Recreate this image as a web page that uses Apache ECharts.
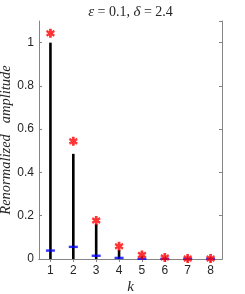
<!DOCTYPE html>
<html><head><meta charset="utf-8">
<script src="https://cdn.jsdelivr.net/npm/echarts@6/dist/echarts.min.js"></script>
<style>html,body{margin:0;padding:0;background:#fff}#c{width:245px;height:294px}</style>
</head><body><div id="c"></div>
<script>
const categories = ['1','2','3','4','5','6','7','8'];
const yTicks = [0, 0.2, 0.4, 0.6, 0.8, 1];
const redValues = [1.043, 0.544, 0.178, 0.059, 0.019, 0.007, 0.002, 0.002];
const stemValues = [1.0, 0.486, 0.162, 0.042, 0.012, 0.004, 0.001, 0.001];
const blueValues = [0.039, 0.056, 0.015, 0.005, 0.001, 0.001, 0.001, 0.001];

const chart = echarts.init(document.getElementById('c'), null, {renderer:'canvas'});
const axisCol = '#858585';
const txtCol = '#262626';
const star = 'path://M3.6,0H6.4V2.4L8.4,1L9.6,3.2L7.4,4.5L9.6,5.8L8.4,8L6.4,6.6V9H3.6V6.6L1.6,8L0.4,5.8L2.6,4.5L0.4,3.2L1.6,1L3.6,2.4Z';
const catAxisBase = {
  type:'category', data:categories, boundaryGap:true,
  axisLine:{show:true, lineStyle:{color:axisCol, width:1}},
  axisTick:{show:true, inside:true, length:3, alignWithLabel:true, lineStyle:{color:axisCol}},
  splitLine:{show:false}
};
const valAxisBase = {
  type:'value', min:0, max:1.1, interval:0.2,
  axisLine:{show:true, lineStyle:{color:axisCol, width:1}},
  axisTick:{show:true, inside:true, length:3, lineStyle:{color:axisCol}},
  splitLine:{show:false}
};
chart.setOption({
  animation:false,
  graphic:[{
    type:'text', x:130.5, y:12, z:10,
    style:{
      text:'{i|ε} = 0.1, {i|δ} = 2.4', align:'center', verticalAlign:'middle',
      fontFamily:'Liberation Serif', fontSize:14, fill:txtCol,
      rich:{i:{fontFamily:'Liberation Serif', fontStyle:'italic', fontSize:15, fill:txtCol, color:txtCol}}
    }
  }],
  grid:{left:39, right:23, top:21, bottom:35, containLabel:false, outerBoundsMode:'none'},
  xAxis:[
    Object.assign({}, catAxisBase, {position:'bottom',
      name:'k', nameLocation:'middle', nameGap:21, nameMoveOverlap:false,
      nameTextStyle:{fontFamily:'Liberation Serif', fontStyle:'italic', fontSize:15, color:txtCol},
      axisLabel:{show:true, margin:6, fontFamily:'Liberation Sans', fontSize:12, color:txtCol}}),
    Object.assign({}, catAxisBase, {position:'top', axisLabel:{show:false}})
  ],
  yAxis:[
    Object.assign({}, valAxisBase, {position:'left',
      name:'Renormalized   amplitude', nameLocation:'middle', nameGap:25, nameMoveOverlap:false,
      nameTextStyle:{fontFamily:'Liberation Serif', fontStyle:'italic', fontSize:14.5, color:txtCol},
      axisLabel:{show:true, margin:5, fontFamily:'Liberation Sans', fontSize:12, color:txtCol,
        showMaxLabel:false,
        formatter:v => yTicks.some(t => Math.abs(t - v) < 1e-9) ? String(+v.toFixed(1)) : ''}}),
    Object.assign({}, valAxisBase, {position:'right', axisLabel:{show:false}})
  ],
  series:[
    {type:'bar', xAxisIndex:0, yAxisIndex:0, data:stemValues, barWidth:2.6,
      itemStyle:{color:'#000'}, z:2},
    {type:'scatter', xAxisIndex:0, yAxisIndex:0, data:blueValues, symbol:'rect', symbolSize:[9,2.4],
      itemStyle:{color:'#0000ff'}, z:3},
    {type:'scatter', xAxisIndex:0, yAxisIndex:0, data:redValues, symbol:star, symbolSize:[9,9],
      itemStyle:{color:'#ff0000'}, z:4}
  ]
});
</script></body></html>
